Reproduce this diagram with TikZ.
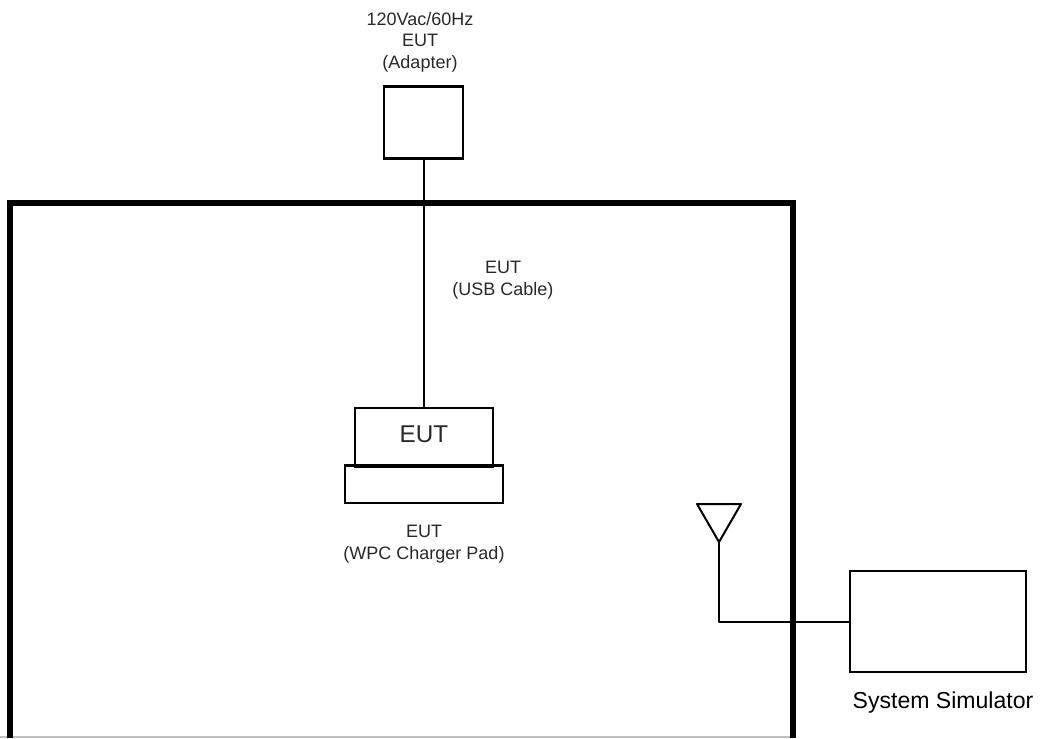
\documentclass[tikz,border=0pt]{standalone}
\usepackage{fontspec}
\setmainfont{Liberation Sans}
\usetikzlibrary{positioning}
\definecolor{mytext}{RGB}{40,40,40}

\begin{document}
\begin{tikzpicture}[x=0.75pt, y=-0.75pt,
    box/.style={draw=black, line width=1.6pt, fill=white, inner sep=0pt},
    lbl/.style={text=mytext, font=\fontsize{13.5pt}{16.2pt}\selectfont, align=center, inner sep=0pt},
    cable/.style={draw=black, line width=1.5pt},
    wall/.style={draw=black, line width=4.5pt, line join=miter}]
    \useasboundingbox (0,0) rectangle (1041,738);

    % chamber
    \coordinate (wallbl) at (10,738);
    \coordinate (walltl) at (10,203);
    \coordinate (walltr) at (793,203);
    \coordinate (wallbr) at (793,738);
    \coordinate (floorl) at (0,737);
    \coordinate (floorr) at (790,737);
    \draw[gray!50, line width=0.9pt] (floorl) -- (floorr);
    \draw[wall] (wallbl) -- (walltl) -- (walltr) -- (wallbr);

    % boxes
    \node[box, minimum width=59.25pt, minimum height=54pt] (adapter) at (423.5,122.5) {};
    \node[box, minimum width=118.5pt, minimum height=28.1pt] (pad) at (424,484.25) {};
    \node[box, fill=none, minimum width=103.5pt, minimum height=44.25pt, font=\fontsize{18.2pt}{20pt}\selectfont, text=mytext] (eut) at (424,437.5) {\raisebox{5pt}{EUT}};
    \node[box, minimum width=132pt, minimum height=75.75pt] (simulator) at (938,621.5) {};

    % antenna
    \coordinate (antl) at (697,504);
    \coordinate (antr) at (741,504);
    \coordinate (antb) at (719,542);
    \coordinate (antc) at (719,622);
    \draw[cable, line join=round] (antl) -- (antr) -- (antb) -- cycle;

    % cables
    \draw[cable] (adapter.south) -- (adapter.south |- eut.north);
    \draw[cable, line join=round] (antb) -- (antc) -- (antc -| simulator.west);

    % labels
    \node[lbl] (adapterlbl) at (420,42) {120Vac/60Hz\\EUT\\(Adapter)};
    \node[lbl] (cablelbl) at (503,280) {EUT\\(USB Cable)};
    \node[lbl] (padlbl) at (424,544) {EUT\\(WPC Charger Pad)};
    \node[lbl, text=black, font=\fontsize{17.3pt}{20pt}\selectfont] (simlbl) at (943,703) {System Simulator};
\end{tikzpicture}
\end{document}
